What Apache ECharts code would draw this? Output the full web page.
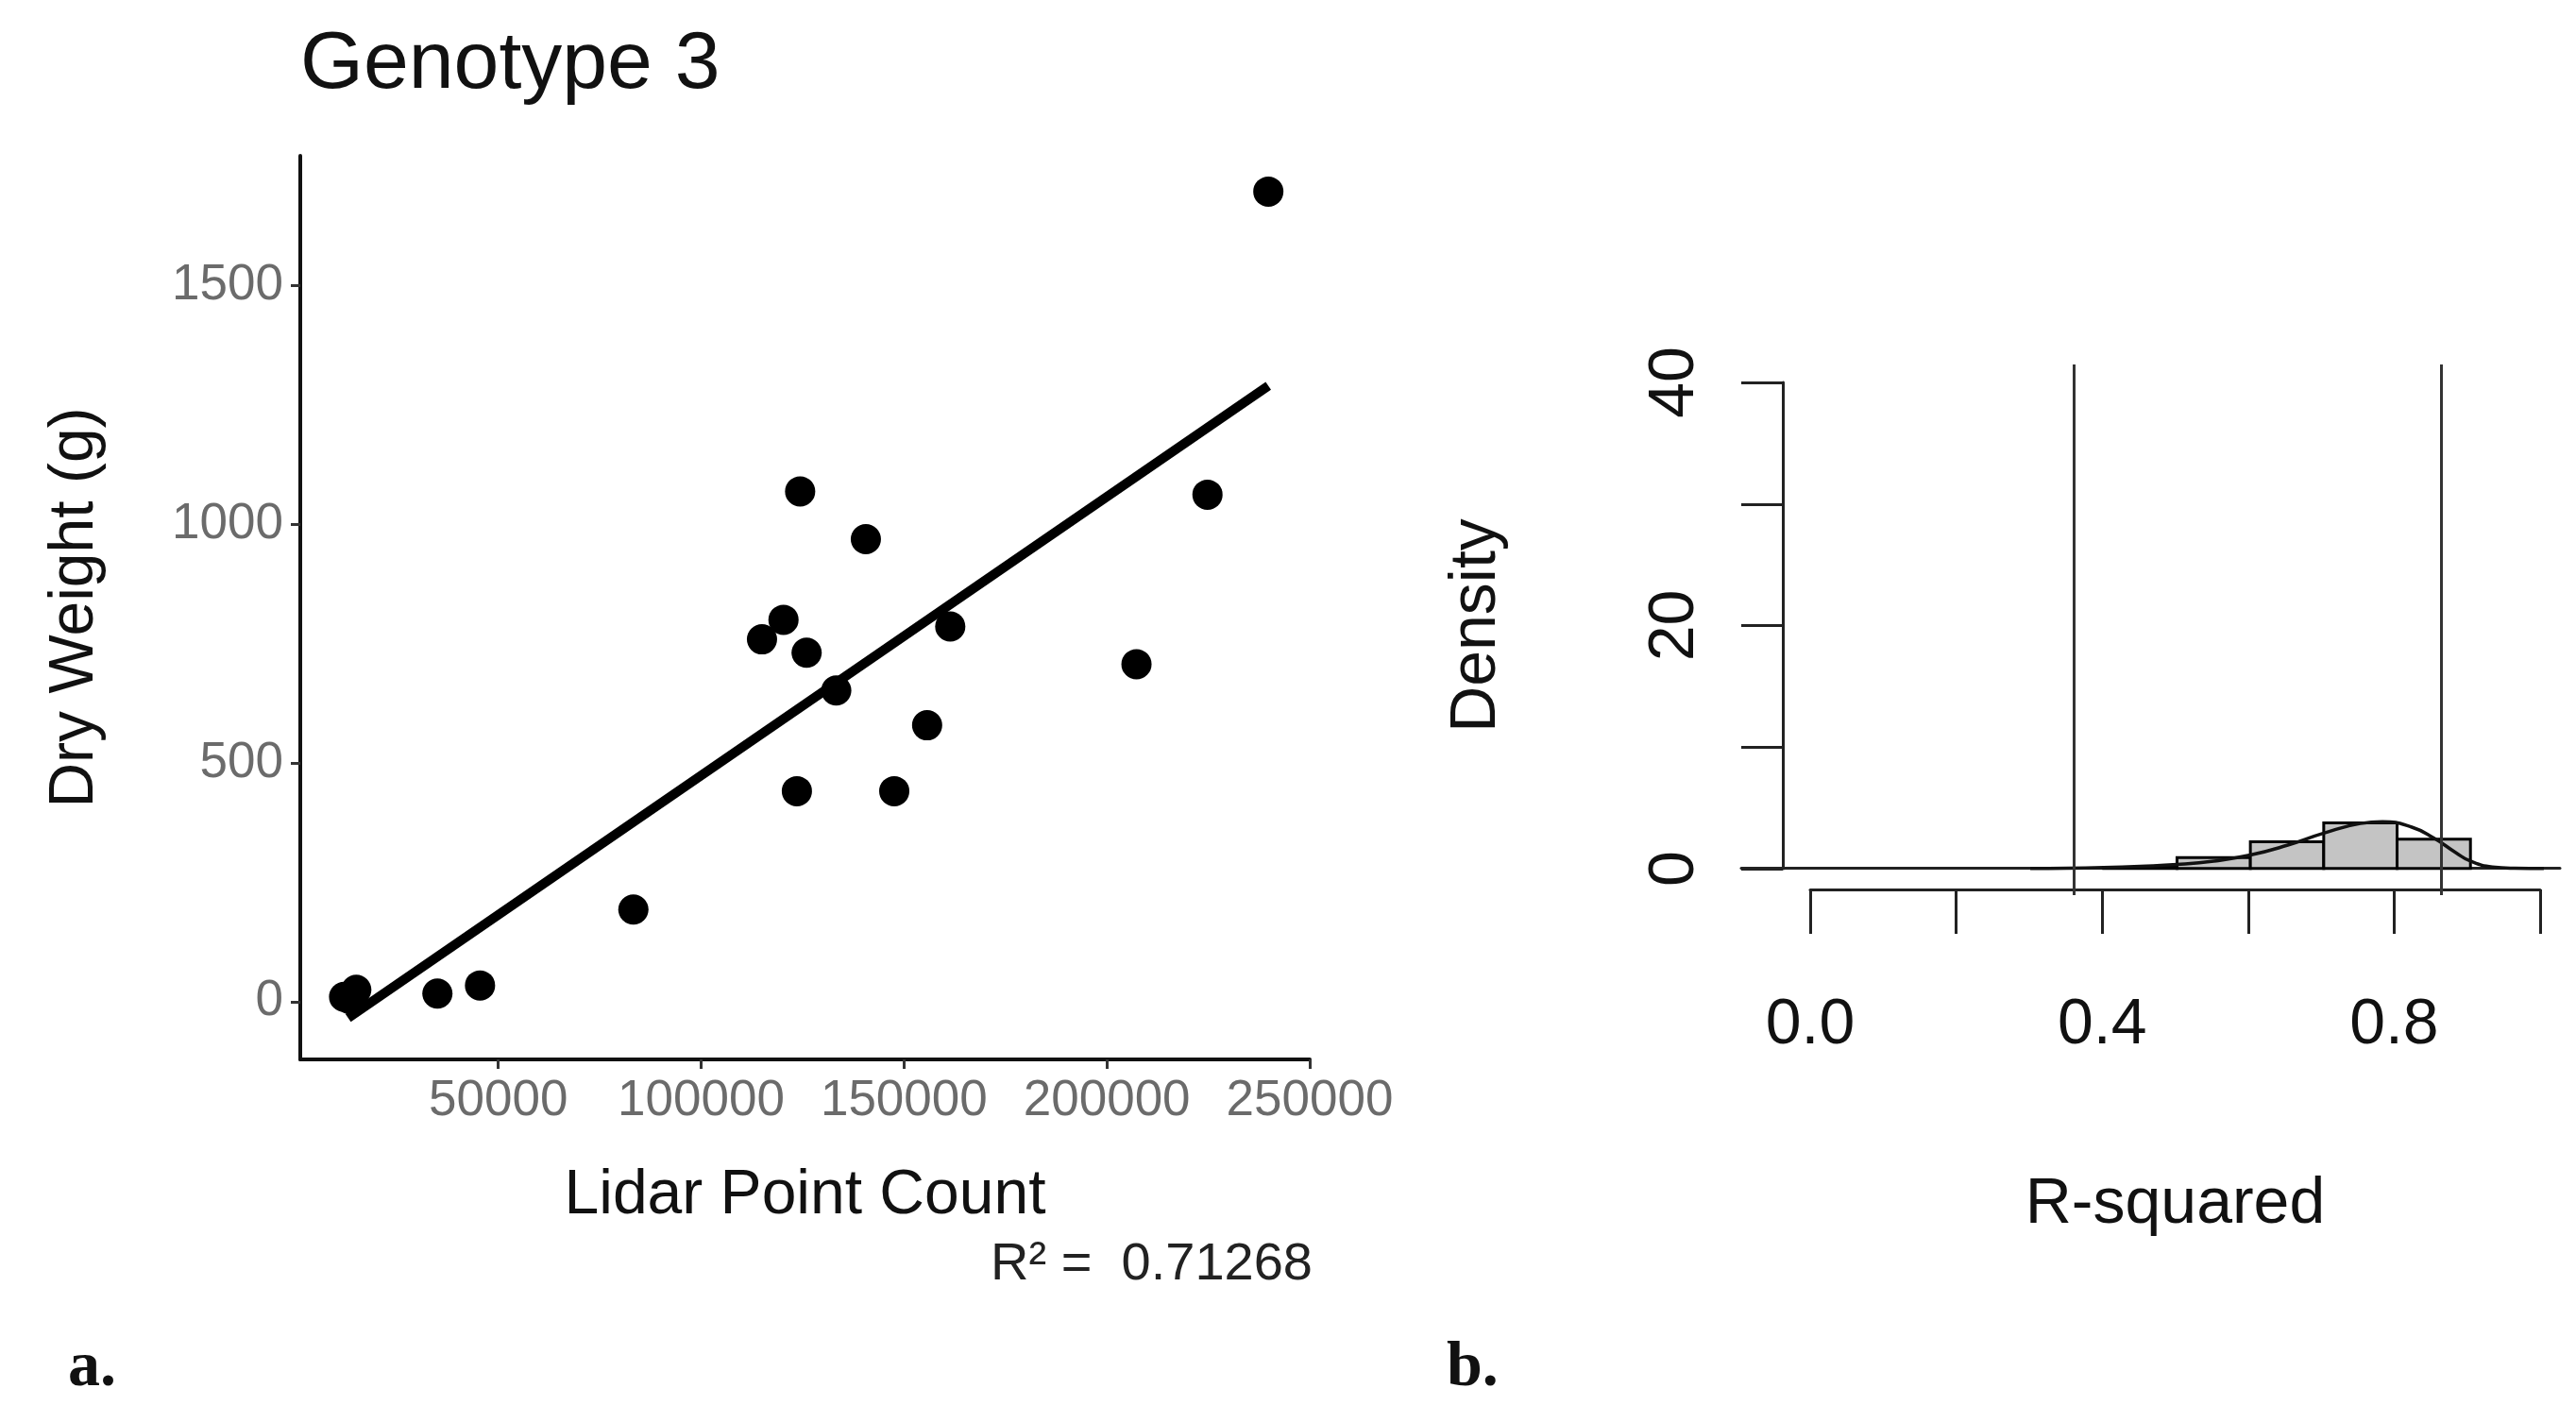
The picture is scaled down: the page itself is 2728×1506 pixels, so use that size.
<!DOCTYPE html>
<html>
<head>
<meta charset="utf-8">
<script src="https://cdn.jsdelivr.net/npm/echarts@6/dist/echarts.min.js"></script>
<style>
  html, body { margin: 0; padding: 0; background: #fff; }
  #main { width: 2728px; height: 1506px; }
</style>
</head>
<body>
<div id="main"></div>
<script>
// panel a: lidar point count vs dry weight
var lidarCount = [12000, 15000, 13500, 35000, 45500, 83300, 115000, 120300, 124400, 126000, 133300, 123600, 140600, 147600, 155700, 161400, 207300, 224800, 239800];
var dryWeight = [10, 25, 5, 17, 34, 193, 759, 800, 1069, 731, 652, 441, 969, 441, 579, 786, 707, 1062, 1697];
var fitLine = [[13000, -34], [239800, 1290]];
var xTicks = [50000, 100000, 150000, 200000, 250000];
var yTicks = [0, 500, 1000, 1500];
var rSquaredText = 'R² =  0.71268';

// panel b: histogram of r-squared
var binStart = [0.4, 0.5, 0.6, 0.7, 0.8];
var binDensity = [0.1, 0.9, 2.2, 3.75, 2.4];
var densityX = [0.30, 0.35, 0.40, 0.45, 0.50, 0.55, 0.60, 0.65, 0.70, 0.75, 0.78, 0.82, 0.85, 0.88, 0.90, 0.93, 0.96, 1.0];
var densityY = [0, 0.02, 0.08, 0.18, 0.32, 0.6, 1.1, 1.9, 2.9, 3.7, 3.85, 3.4, 2.5, 1.3, 0.6, 0.12, 0.02, 0];
var vLines = [0.357, 0.865];

var chart = echarts.init(document.getElementById('main'));

var pts = lidarCount.map(function (x, i) { return [x, dryWeight[i]]; });
var curve = densityX.map(function (x, i) { return [x, densityY[i]]; });
var bins = binStart.map(function (x, i) { return [x, x + 0.1, binDensity[i]]; });

var plain = function (v) { return String(v); };

chart.setOption({
  animation: false,
  textStyle: { fontFamily: 'Liberation Sans' },
  graphic: [
    { type: 'text', left: 318, top: 26, style: { text: 'Genotype 3', fontSize: 86, fill: '#111', fontFamily: 'Liberation Sans' } },
    { type: 'text', right: 2728 - 1390, top: 1312, style: { text: rSquaredText, fontSize: 56, fill: '#222', fontFamily: 'Liberation Sans' } },
    { type: 'text', left: 72, top: 1415, style: { text: 'a.', fontSize: 68, fontWeight: 'bold', fill: '#111', fontFamily: 'Liberation Serif' } },
    { type: 'text', left: 1532, top: 1415, style: { text: 'b.', fontSize: 68, fontWeight: 'bold', fill: '#111', fontFamily: 'Liberation Serif' } }
  ],
  grid: [
    { left: 318, top: 165, width: 1069, height: 957 },
    { left: 1844, top: 386, width: 867, height: 562 },
    { left: 1888, top: 405, width: 1, height: 515 },
    { left: 1917, top: 941, width: 773, height: 1 }
  ],
  xAxis: [
    {
      gridIndex: 0, type: 'value', min: 1200, max: 250000,
      splitLine: { show: false },
      axisLine: { onZero: false, lineStyle: { color: '#111', width: 4 } },
      axisTick: { length: 10, lineStyle: { color: '#333', width: 3 }, customValues: xTicks },
      axisLabel: { margin: 18, customValues: xTicks, formatter: plain, hideOverlap: false,
        color: '#6b6b6b', fontSize: 53, fontFamily: 'Liberation Sans' },
      name: 'Lidar Point Count', nameLocation: 'middle', nameGap: 112,
      nameTextStyle: { fontSize: 66, color: '#111', fontFamily: 'Liberation Sans' }
    },
    {
      gridIndex: 1, type: 'value', min: -0.094, max: 1.022,
      splitLine: { show: false },
      axisLine: { onZero: true, lineStyle: { color: '#222', width: 3 } },
      axisTick: { show: false }, axisLabel: { show: false }
    },
    { gridIndex: 2, type: 'value', show: false },
    {
      gridIndex: 3, type: 'value', min: 0, max: 1, interval: 0.2,
      splitLine: { show: false },
      axisLine: { lineStyle: { color: '#222', width: 3 } },
      axisTick: { length: 47, lineStyle: { color: '#222', width: 3 } },
      axisLabel: {
        margin: 110, fontSize: 68, color: '#111', fontFamily: 'Liberation Sans',
        formatter: function (v) { return Math.round(v * 10) % 4 === 0 ? v.toFixed(1) : ''; }
      },
      name: 'R-squared', nameLocation: 'middle', nameGap: 300,
      nameTextStyle: { fontSize: 68, color: '#111', fontFamily: 'Liberation Sans' }
    }
  ],
  yAxis: [
    {
      gridIndex: 0, type: 'value', min: -121, max: 1772,
      splitLine: { show: false },
      axisLine: { onZero: false, lineStyle: { color: '#111', width: 4 } },
      axisTick: { length: 10, lineStyle: { color: '#333', width: 3 }, customValues: yTicks },
      axisLabel: { margin: 18, customValues: yTicks, formatter: plain,
        color: '#6b6b6b', fontSize: 53, fontFamily: 'Liberation Sans' },
      name: 'Dry Weight (g)', nameLocation: 'middle', nameGap: 205,
      nameTextStyle: { fontSize: 66, color: '#111', fontFamily: 'Liberation Sans' }
    },
    { gridIndex: 1, type: 'value', min: -2.2, max: 41.5, show: false },
    {
      gridIndex: 2, type: 'value', min: 0, max: 40, interval: 10,
      splitLine: { show: false },
      axisLine: { lineStyle: { color: '#222', width: 3 } },
      axisTick: { length: 44, lineStyle: { color: '#222', width: 3 } },
      axisLabel: {
        margin: 80, fontSize: 68, color: '#111', rotate: 90, fontFamily: 'Liberation Sans',
        formatter: function (v) { return v % 20 === 0 ? String(v) : ''; }
      },
      name: 'Density', nameLocation: 'middle', nameGap: 290,
      nameTextStyle: { fontSize: 68, color: '#111', fontFamily: 'Liberation Sans' }
    },
    { gridIndex: 3, type: 'value', show: false }
  ],
  series: [
    {
      type: 'scatter', xAxisIndex: 0, yAxisIndex: 0, data: pts,
      symbolSize: 32, itemStyle: { color: '#000', opacity: 1 }
    },
    {
      type: 'line', xAxisIndex: 0, yAxisIndex: 0, data: fitLine,
      symbol: 'none', lineStyle: { color: '#000', width: 10 }
    },
    {
      type: 'custom', xAxisIndex: 1, yAxisIndex: 1, data: bins,
      renderItem: function (params, api) {
        var p0 = api.coord([api.value(0), 0]);
        var p1 = api.coord([api.value(1), api.value(2)]);
        return {
          type: 'rect',
          shape: { x: p0[0], y: p1[1], width: p1[0] - p0[0], height: p0[1] - p1[1] },
          style: { fill: '#c4c4c4', stroke: '#000', lineWidth: 3 }
        };
      }
    },
    {
      type: 'line', xAxisIndex: 1, yAxisIndex: 1, data: curve, smooth: true,
      symbol: 'none', lineStyle: { color: '#111', width: 3.5 },
      markLine: {
        symbol: 'none', silent: true, label: { show: false },
        lineStyle: { color: '#333', width: 3, type: 'solid' },
        data: vLines.map(function (v) { return { xAxis: v }; })
      }
    }
  ]
});
</script>
</body>
</html>
